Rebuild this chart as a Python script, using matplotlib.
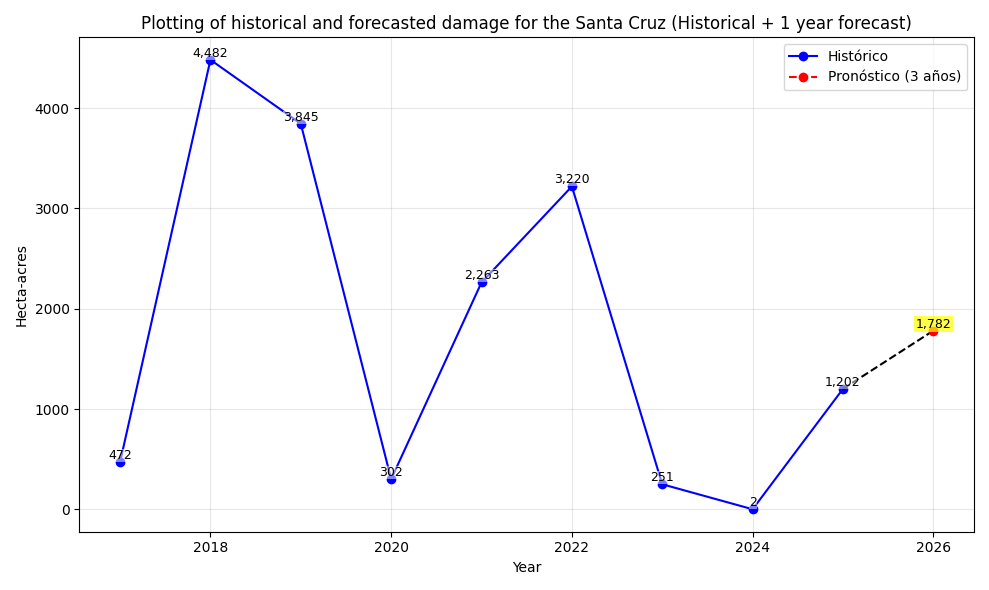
import matplotlib
matplotlib.use("Agg")
import matplotlib.pyplot as plt

years = [2017, 2018, 2019, 2020, 2021, 2022, 2023, 2024, 2025]
damage = [472, 4482, 3845, 302, 2263, 3220, 251, 2, 1202]
fc_years = [2026]
fc_damage = [1782]

fig, ax = plt.subplots(figsize=(9.89, 5.9), dpi=100)
ax.plot(years, damage, "b-o", label="Histórico")
ax.plot([years[-1], fc_years[0]], [damage[-1], fc_damage[0]], "k--")
ax.plot(fc_years, fc_damage, "r--o", label="Pronóstico (3 años)")

for x, y in zip(years, damage):
    ax.text(x, y, f"{y:,}", ha="center", va="bottom", fontsize=9,
            bbox=dict(facecolor="white", alpha=0.5, edgecolor="none", pad=0))
for x, y in zip(fc_years, fc_damage):
    ax.text(x, y, f"{y:,}", ha="center", va="bottom", fontsize=9,
            bbox=dict(facecolor="yellow", alpha=0.7, edgecolor="none", pad=1))

ax.set_title("Plotting of historical and forecasted damage for the Santa Cruz (Historical + 1 year forecast)")
ax.set_xlabel("Year")
ax.set_ylabel("Hecta-acres")
ax.grid(True, alpha=0.3)
ax.legend(loc="upper right")
fig.tight_layout()
fig.savefig("out.png")
